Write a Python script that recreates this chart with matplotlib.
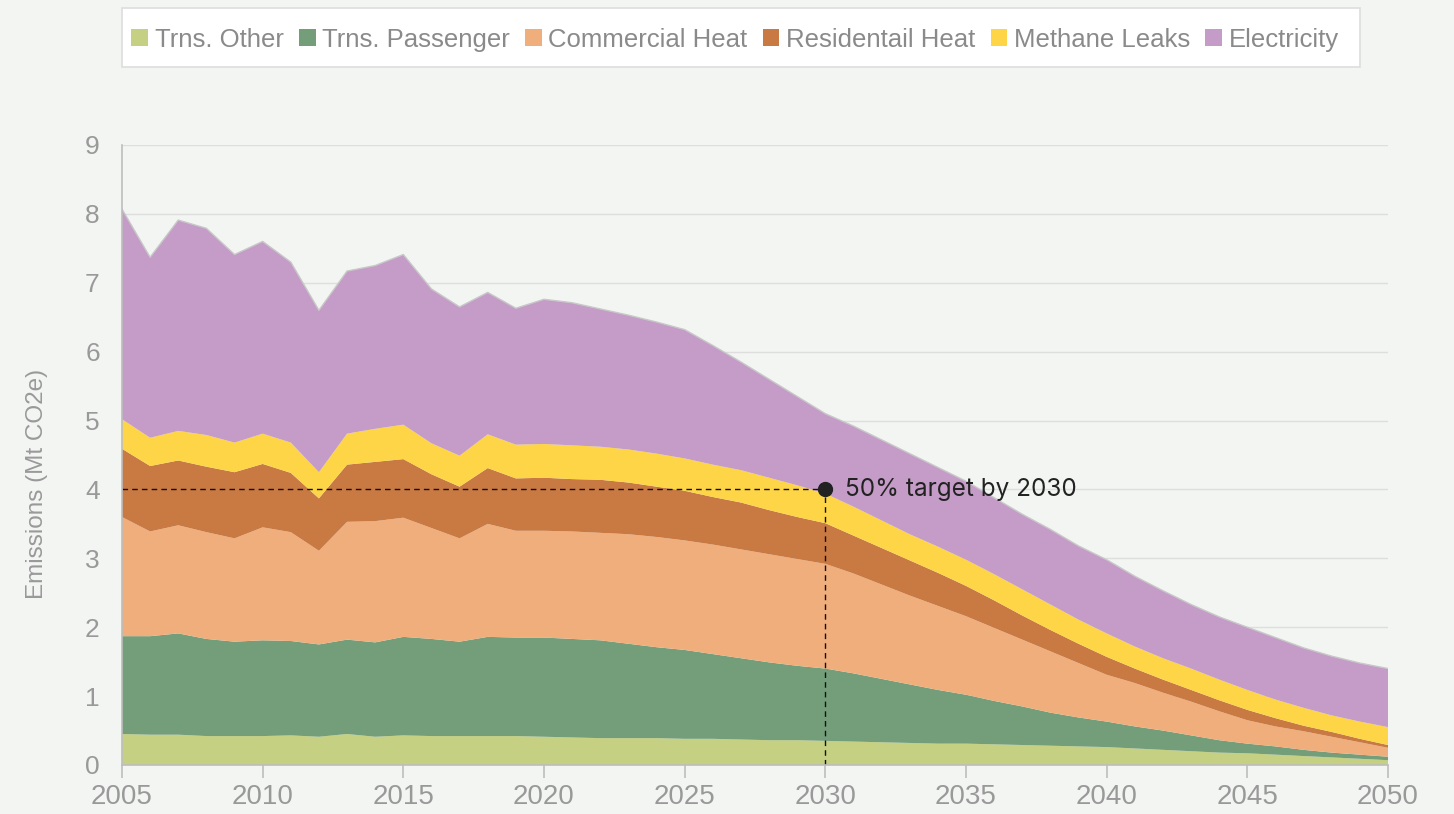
import numpy as np
import matplotlib.pyplot as plt
from matplotlib.patches import Patch, Rectangle

years = list(range(2005, 2051))

# emissions by sector, Mt CO2e (stacked in this order)
trns_other = [0.45, 0.44, 0.44, 0.42, 0.42, 0.42, 0.43, 0.41, 0.45, 0.41,
              0.43, 0.42, 0.42, 0.42, 0.42, 0.41, 0.40, 0.39, 0.39, 0.39,
              0.38, 0.38, 0.37, 0.36, 0.36, 0.35, 0.34, 0.33, 0.32, 0.31,
              0.31, 0.30, 0.29, 0.28, 0.27, 0.26, 0.24, 0.22, 0.20, 0.18,
              0.17, 0.15, 0.13, 0.11, 0.09, 0.07]
trns_passenger = [1.42, 1.43, 1.47, 1.41, 1.37, 1.39, 1.37, 1.34, 1.37, 1.37,
                  1.43, 1.41, 1.37, 1.44, 1.43, 1.44, 1.43, 1.42, 1.37, 1.32,
                  1.29, 1.23, 1.18, 1.13, 1.08, 1.05, 0.99, 0.92, 0.85, 0.78,
                  0.71, 0.63, 0.56, 0.48, 0.42, 0.37, 0.32, 0.28, 0.23, 0.18,
                  0.14, 0.12, 0.09, 0.07, 0.06, 0.05]
commercial_heat = [1.73, 1.52, 1.57, 1.55, 1.50, 1.64, 1.58, 1.36, 1.71, 1.76,
                   1.73, 1.61, 1.50, 1.64, 1.55, 1.55, 1.56, 1.56, 1.59, 1.60,
                   1.59, 1.59, 1.58, 1.57, 1.55, 1.52, 1.45, 1.37, 1.29, 1.22,
                   1.14, 1.06, 0.97, 0.89, 0.79, 0.68, 0.63, 0.55, 0.49, 0.42,
                   0.34, 0.29, 0.27, 0.23, 0.18, 0.13]
residential_heat = [0.99, 0.95, 0.94, 0.95, 0.96, 0.92, 0.86, 0.76, 0.83, 0.86,
                    0.85, 0.78, 0.75, 0.81, 0.76, 0.77, 0.76, 0.77, 0.75, 0.73,
                    0.72, 0.69, 0.68, 0.64, 0.61, 0.59, 0.55, 0.53, 0.51, 0.48,
                    0.44, 0.40, 0.35, 0.31, 0.28, 0.26, 0.21, 0.19, 0.17, 0.16,
                    0.15, 0.12, 0.08, 0.07, 0.05, 0.04]
methane_leaks = [0.43, 0.41, 0.43, 0.46, 0.43, 0.44, 0.44, 0.38, 0.45, 0.48,
                 0.50, 0.45, 0.45, 0.49, 0.49, 0.49, 0.49, 0.48, 0.48, 0.48,
                 0.47, 0.47, 0.47, 0.47, 0.46, 0.43, 0.42, 0.40, 0.38, 0.38,
                 0.38, 0.38, 0.38, 0.37, 0.35, 0.34, 0.32, 0.31, 0.31, 0.30,
                 0.29, 0.27, 0.26, 0.24, 0.25, 0.26]
electricity = [3.05, 2.62, 3.06, 3.00, 2.73, 2.79, 2.62, 2.35, 2.36, 2.37,
               2.47, 2.24, 2.16, 2.06, 1.98, 2.10, 2.07, 2.00, 1.95, 1.91,
               1.87, 1.73, 1.57, 1.43, 1.29, 1.16, 1.17, 1.17, 1.17, 1.15,
               1.14, 1.11, 1.09, 1.09, 1.07, 1.07, 1.02, 0.98, 0.93, 0.91,
               0.91, 0.90, 0.87, 0.86, 0.85, 0.85]

labels = ["Trns. Other", "Trns. Passenger", "Commercial Heat",
          "Residentail Heat", "Methane Leaks", "Electricity"]
colors = ["#c5d083", "#749e7a", "#f0ae7c", "#c97942", "#fdd547", "#c49cc7"]

target_year = 2030
target_value = 4

bg = "#f3f5f3"
fig = plt.figure(figsize=(14.54, 8.14), dpi=100, facecolor=bg)
ax = fig.add_axes([0.0839, 0.0602, 0.8707, 0.7617], facecolor=bg)

series = [trns_other, trns_passenger, commercial_heat,
          residential_heat, methane_leaks, electricity]
ax.stackplot(years, *series, colors=colors, linewidth=0, zorder=2)
top = np.sum(series, axis=0)
ax.plot(years, top, color="#c8c8c8", lw=1, zorder=3)

# 50% target marker
ax.plot([2005, target_year], [target_value, target_value], color="#111111",
        lw=1, ls=(0, (4, 3)), zorder=4)
ax.plot([target_year, target_year], [0, target_value], color="#111111",
        lw=1, ls=(0, (4, 3)), zorder=4)
ax.plot(target_year, target_value, "o", color="#222222", ms=10, zorder=5)
ax.text(target_year + 0.7, target_value, "50% target by 2030", fontsize=17.5,
        color="#222222", va="center", ha="left", family="Inter", zorder=5)

ax.set_xlim(2005, 2050)
ax.set_ylim(0, 9)
ax.set_xticks(range(2005, 2051, 5))
ax.set_yticks(range(0, 10))
ax.grid(axis="y", color="#dedede", lw=1, zorder=0)
ax.set_axisbelow(True)
for s in ["top", "right"]:
    ax.spines[s].set_visible(False)
for s in ["left", "bottom"]:
    ax.spines[s].set_color("#bdbdbd")
    ax.spines[s].set_linewidth(1.2)
    ax.spines[s].set_zorder(6)
ax.tick_params(axis="x", colors="#bdbdbd", length=9, width=1.2,
               labelcolor="#999999", labelsize=20, pad=5)
ax.tick_params(axis="y", length=0, labelcolor="#999999", labelsize=19, pad=16)
for t in ax.get_xticklabels() + ax.get_yticklabels():
    t.set_family("Liberation Sans")
ax.set_ylabel("Emissions (Mt CO2e)", fontsize=17.5, color="#999999",
              family="Liberation Sans")
ax.yaxis.set_label_coords(-0.0585, 0.453)

# legend box
fig.patches.append(Rectangle((122 / 1454, 1 - 67 / 814), 1238 / 1454, 59 / 814,
                             transform=fig.transFigure, facecolor="white",
                             edgecolor="#dddddd", lw=1.2, zorder=0))
handles = [Patch(facecolor=c, edgecolor="none") for c in colors]
leg = fig.legend(handles, labels, loc="center", ncol=6,
                 bbox_to_anchor=(0.5055, 0.951), frameon=False,
                 handlelength=0.65, handleheight=0.65, handletextpad=0.25,
                 columnspacing=0.6, borderpad=0.5,
                 prop={"family": "Liberation Sans", "size": 18.5})
for t in leg.get_texts():
    t.set_color("#8a8a8a")

fig.savefig("out.png", dpi=100, facecolor=bg)
